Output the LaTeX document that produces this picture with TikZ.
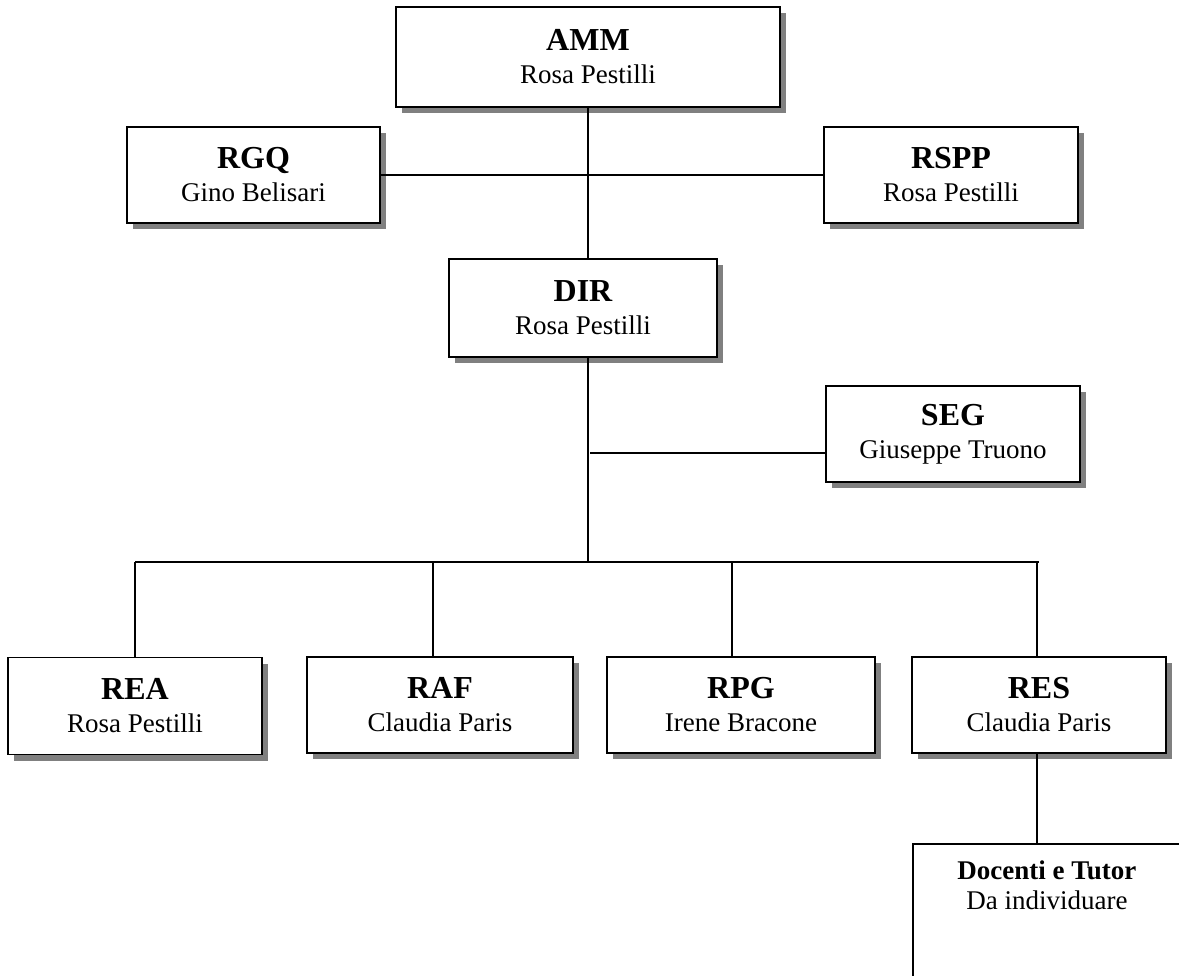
\documentclass[tikz,border=0pt]{standalone}
\usepackage{fontspec}
\setmainfont{Liberation Serif}
\usetikzlibrary{shadows}
\begin{document}
\begin{tikzpicture}[x=1pt,y=-1pt,
  orgbox/.style={draw=black, line width=1.8pt, fill=white, align=center, inner sep=0pt,
    font=\fontsize{27}{33}\selectfont,
    drop shadow={shadow xshift=6pt, shadow yshift=-6pt, fill=gray, opacity=1}},
  docbox/.style={draw=black, line width=1.8pt, fill=white, inner sep=0pt},
  conn/.style={draw=black, line width=1.3pt}]
\clip (0,0) rectangle (1179,976);
\fill[white] (0,0) rectangle (1179,976);

\newcommand{\hd}[1]{{\fontsize{32}{33}\selectfont\bfseries #1}}

\node[orgbox, minimum width=384pt, minimum height=100pt] (amm) at (588,57) {\hd{AMM}\\Rosa Pestilli};
\node[orgbox, minimum width=253pt, minimum height=96pt] (rgq) at (253.5,175) {\hd{RGQ}\\Gino Belisari};
\node[orgbox, minimum width=254pt, minimum height=96pt] (rspp) at (951,175) {\hd{RSPP}\\Rosa Pestilli};
\node[orgbox, minimum width=268pt, minimum height=98pt] (dir) at (583,308) {\hd{DIR}\\Rosa Pestilli};
\node[orgbox, minimum width=254pt, minimum height=96pt] (seg) at (953,434) {\hd{SEG}\\Giuseppe Truono};
\node[orgbox, minimum width=254pt, minimum height=97pt] (rea) at (135,706) {\hd{REA}\\Rosa Pestilli};
\node[orgbox, minimum width=266pt, minimum height=96pt] (raf) at (440,705) {\hd{RAF}\\Claudia Paris};
\node[orgbox, minimum width=268pt, minimum height=96pt] (rpg) at (741,705) {\hd{RPG}\\Irene Bracone};
\node[orgbox, minimum width=254pt, minimum height=96pt] (res) at (1039,705) {\hd{RES}\\Claudia Paris};

\node[docbox, minimum width=268pt, minimum height=200pt, anchor=north west] (doc) at (912,843) {};
\node[anchor=north, align=center, inner sep=0pt, font=\fontsize{27}{30}\selectfont] (doctext) at ([yshift=-18pt]doc.north) {{\bfseries Docenti e Tutor}\\Da individuare};

\coordinate (junction) at (588,562);
\coordinate (segend) at (590,453);

\draw[conn] (amm.south) -- (amm.south |- dir.north);
\draw[conn] (rgq.east) -- (rspp.west);
\draw[conn] (dir.south -| junction) -- (junction);
\draw[conn] (segend) -- (segend -| seg.west);
\draw[conn] (rea.north |- junction) -- (res.north |- junction);
\draw[conn] (rea.north) -- (rea.north |- junction);
\draw[conn] ([xshift=-7pt]raf.north) -- ([xshift=-7pt]raf.north |- junction);
\draw[conn] ([xshift=-9pt]rpg.north) -- ([xshift=-9pt]rpg.north |- junction);
\draw[conn] ([xshift=-2pt]res.north) -- ([xshift=-2pt]res.north |- junction);
\draw[conn] ([xshift=-2pt]res.south) -- ([xshift=-2pt]res.south |- doc.north);
\end{tikzpicture}
\end{document}
